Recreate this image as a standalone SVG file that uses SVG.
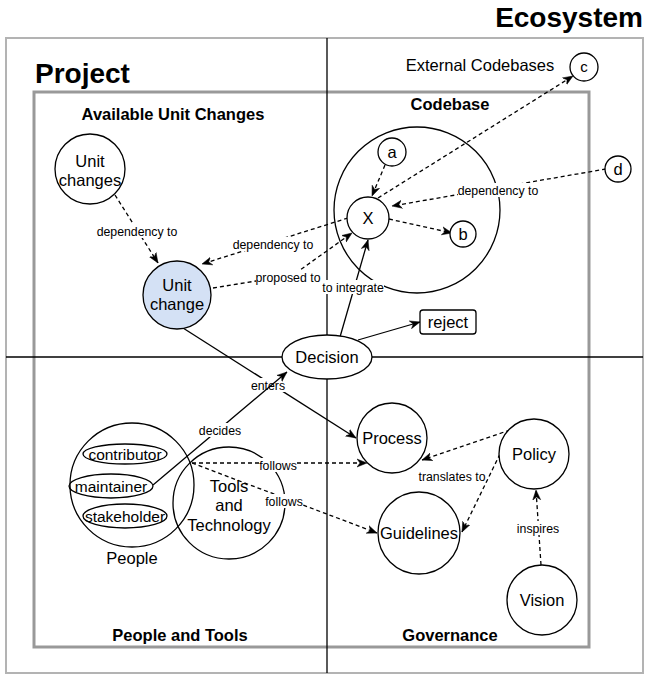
<svg xmlns="http://www.w3.org/2000/svg" width="645" height="677" viewBox="0 0 645 677">
<style>
text{font-family:"Liberation Sans",Arial,Helvetica,sans-serif;fill:#000}
.t{font-size:16.5px;text-anchor:middle}
.s{font-size:15.5px;text-anchor:middle}
.h{font-size:16.5px;font-weight:bold;text-anchor:middle}
.big{font-size:28px;font-weight:bold}
.e{font-size:12.3px;text-anchor:middle}
.lb{fill:#fff;stroke:none}
.n{fill:#fff;stroke:#000;stroke-width:1.3}
.c{fill:none;stroke:#000;stroke-width:1.3}
.ln{fill:none;stroke:#000;stroke-width:1.3}
.d{fill:none;stroke:#000;stroke-width:1.3;stroke-dasharray:4 3}
</style>
<defs>
<marker id="arr" viewBox="0 0 10 10" refX="10" refY="5" markerWidth="10" markerHeight="10" markerUnits="userSpaceOnUse" orient="auto">
<path d="M0,1 L10,5 L0,9 L3,5 Z" fill="#000" stroke="#000" stroke-width="0.5"/>
</marker>
</defs>
<rect width="645" height="677" fill="#fff"/>
<g id="ecosystem">
<rect x="6" y="38" width="637" height="635" fill="none" stroke="#B3B3B3" stroke-width="2"/>
<text class="big" x="643" y="27" text-anchor="end">Ecosystem</text>
<text class="t" x="480" y="71">External Codebases</text>
</g>
<g id="project">
<rect x="34" y="92" width="555" height="555" fill="none" stroke="#999999" stroke-width="3"/>
<text class="big" x="35" y="83">Project</text>
</g>
<g id="quadrants">
<line x1="327" y1="38" x2="327" y2="673" stroke="#000" stroke-width="1.3"/>
<line x1="6" y1="357" x2="643" y2="357" stroke="#000" stroke-width="1.3"/>
<text class="h" x="173" y="120">Available Unit Changes</text>
<text class="h" x="450" y="110">Codebase</text>
<text class="h" x="180" y="641">People and Tools</text>
<text class="h" x="450" y="641">Governance</text>
</g>
<g id="codebase-circle"><circle class="c" cx="417" cy="210" r="83"/></g>
<g id="people"><circle class="c" cx="132" cy="485" r="62"/><text class="t" x="132" y="564">People</text></g>
<g id="tools"><circle class="c" cx="229" cy="503" r="56"/>
<text class="t" x="229" y="492">Tools</text><text class="t" x="229" y="511">and</text><text class="t" x="229" y="531">Technology</text></g>
<g id="connectors">
<line class="d" x1="115" y1="195" x2="158" y2="263" marker-end="url(#arr)"/>
<line class="d" x1="348" y1="218" x2="202" y2="264" marker-end="url(#arr)"/>
<polyline class="d" points="213,288 293,275 352,233" marker-end="url(#arr)"/>
<line class="ln" x1="340" y1="337" x2="368" y2="240" marker-end="url(#arr)"/>
<line class="ln" x1="358" y1="340" x2="420" y2="322" marker-end="url(#arr)"/>
<line class="d" x1="378" y1="198" x2="573" y2="76" marker-end="url(#arr)"/>
<line class="d" x1="606" y1="169" x2="392" y2="206" marker-end="url(#arr)"/>
<line class="d" x1="385" y1="165" x2="372" y2="196" marker-end="url(#arr)"/>
<line class="d" x1="389" y1="219" x2="452" y2="233" marker-end="url(#arr)"/>
<line class="ln" x1="183" y1="328" x2="356" y2="438" marker-end="url(#arr)"/>
<line class="d" x1="192" y1="463" x2="367" y2="463" marker-end="url(#arr)"/>
<line class="d" x1="192" y1="463" x2="377" y2="533" marker-end="url(#arr)"/>
<line class="d" x1="510" y1="430" x2="422" y2="460" marker-end="url(#arr)"/>
<line class="d" x1="500" y1="454" x2="462" y2="532" marker-end="url(#arr)"/>
<line class="d" x1="541" y1="565" x2="536" y2="490" marker-end="url(#arr)"/>
<rect class="lb" x="97" y="224" width="81" height="14"/><text class="e" x="137" y="235.5">dependency to</text>
<rect class="lb" x="233" y="237" width="81" height="14"/><text class="e" x="273" y="248.5">dependency to</text>
<rect class="lb" x="256" y="270" width="65" height="14"/><text class="e" x="288" y="281.5">proposed to</text>
<rect class="lb" x="322" y="280" width="62" height="14"/><text class="e" x="353" y="291.5">to integrate</text>
<rect class="lb" x="458" y="183" width="81" height="14"/><text class="e" x="498" y="194.5">dependency to</text>
<rect class="lb" x="251" y="378" width="34" height="14"/><text class="e" x="268" y="389.5">enters</text>
<line class="ln" x1="153" y1="485" x2="287" y2="372" marker-end="url(#arr)"/>
<rect class="lb" x="199" y="423" width="42" height="14"/><text class="e" x="220" y="434.5">decides</text>
<rect class="lb" x="259" y="458" width="38" height="14"/><text class="e" x="278" y="469.5">follows</text>
<rect class="lb" x="265" y="494" width="38" height="14"/><text class="e" x="284" y="505.5">follows</text>
<text class="e" x="452" y="480.5">translates to</text>
<rect class="lb" x="517" y="521" width="42" height="14"/><text class="e" x="538" y="532.5">inspires</text>
</g>
<g id="unit-changes"><circle class="n" cx="90" cy="169" r="35"/><text class="t" x="90" y="167">Unit</text><text class="t" x="90" y="186">changes</text></g>
<g id="unit-change"><circle cx="177" cy="295" r="34" fill="#D4E1F5" stroke="#000" stroke-width="1.3"/><text class="t" x="177" y="291">Unit</text><text class="t" x="177" y="310">change</text></g>
<g id="node-a"><circle class="n" cx="392" cy="152" r="14"/><text class="t" x="392" y="158">a</text></g>
<g id="node-x"><circle class="n" cx="368" cy="218" r="21"/><text class="t" x="368" y="224">X</text></g>
<g id="node-b"><circle class="n" cx="463" cy="234" r="13"/><text class="t" x="463" y="240">b</text></g>
<g id="node-c"><circle class="n" cx="584" cy="67" r="14"/><text class="t" x="584" y="72" style="font-size:15px">c</text></g>
<g id="node-d"><circle class="n" cx="618" cy="169" r="13"/><text class="t" x="618" y="175">d</text></g>
<g id="reject"><rect class="n" x="420" y="310" width="56" height="24" rx="3"/><text class="t" x="448" y="328">reject</text></g>
<g id="decision"><ellipse class="n" cx="327" cy="357" rx="45" ry="22"/><text class="t" x="327" y="363">Decision</text></g>
<g id="contributor"><ellipse class="c" cx="125" cy="454" rx="42" ry="10"/><text class="s" x="125" y="459.5">contributor</text></g>
<g id="maintainer"><ellipse class="c" cx="111" cy="486" rx="42" ry="12"/><text class="s" x="111" y="491.5">maintainer</text></g>
<g id="stakeholder"><ellipse class="c" cx="125" cy="516" rx="42" ry="12"/><text class="s" x="125" y="521.5">stakeholder</text></g>
<g id="process"><circle class="n" cx="392" cy="438" r="35"/><text class="t" x="392" y="444">Process</text></g>
<g id="policy"><circle class="n" cx="534" cy="454" r="35"/><text class="t" x="534" y="460">Policy</text></g>
<g id="guidelines"><circle class="n" cx="419" cy="533" r="41"/><text class="t" x="419" y="539">Guidelines</text></g>
<g id="vision"><circle class="n" cx="542" cy="600" r="35"/><text class="t" x="542" y="606">Vision</text></g>
</svg>
